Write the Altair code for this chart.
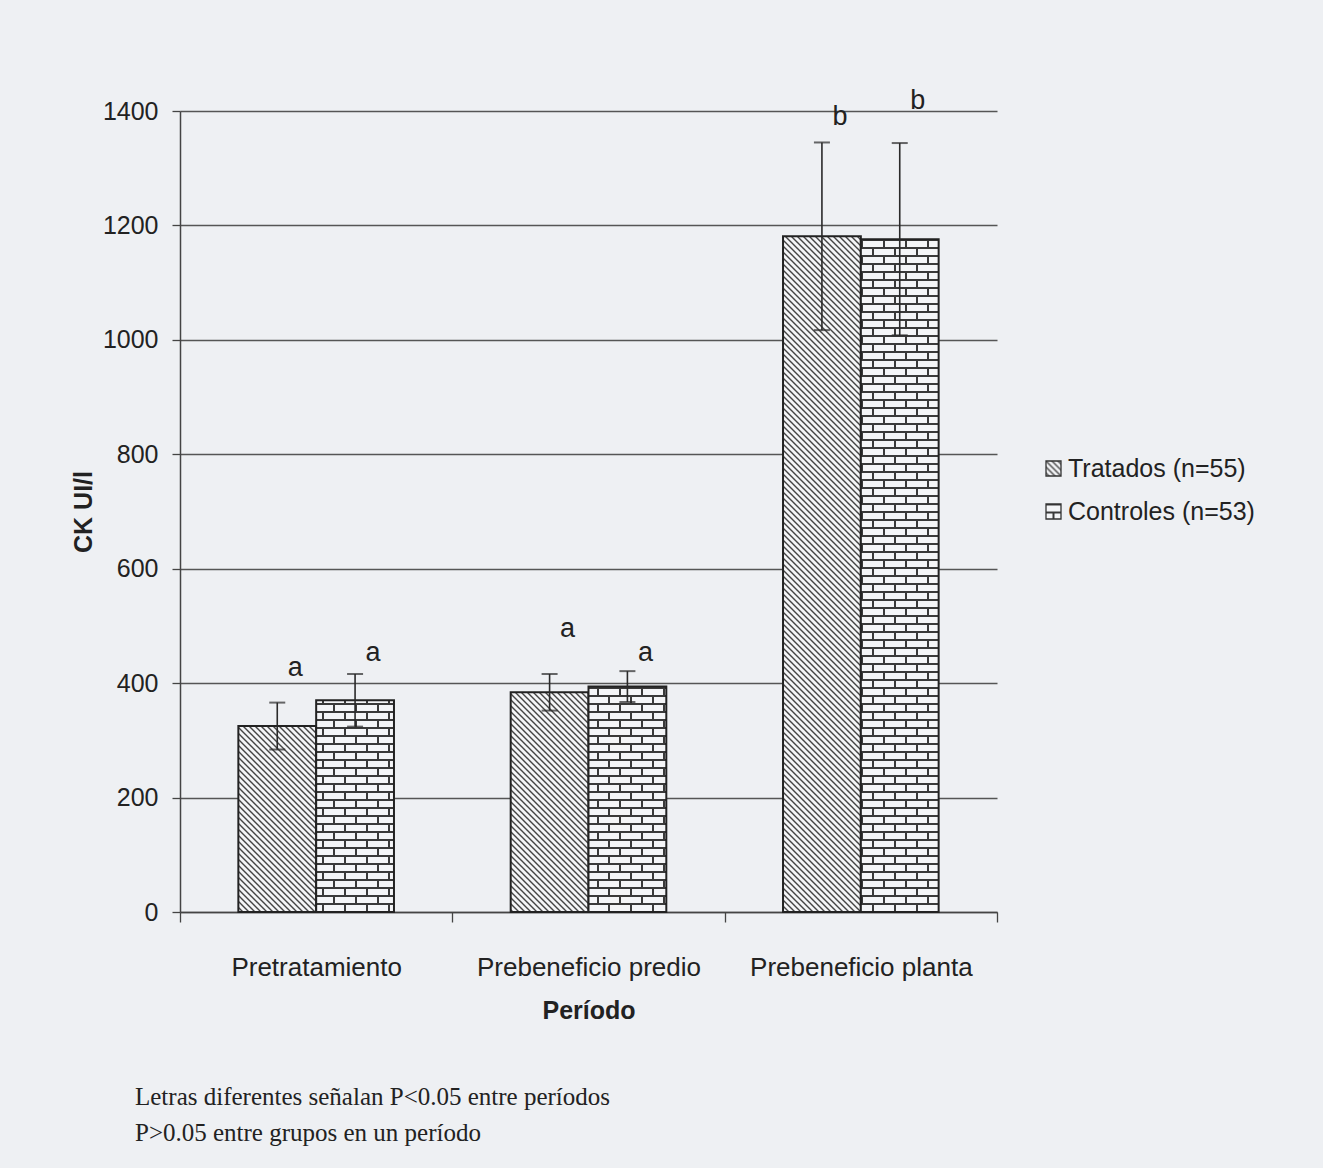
import altair as alt
import pandas as pd
import jinja2

# ---------------- data ----------------
periods = ["Pretratamiento", "Prebeneficio predio", "Prebeneficio planta"]
groups = ["Tratados (n=55)", "Controles (n=53)"]

tratados_mean = [325, 384, 1181]
tratados_err = [41, 32, 164]
controles_mean = [370, 394, 1176]
controles_err = [46, 27, 168]

tratados_letter = ["a", "a", "b"]
controles_letter = ["a", "a", "b"]
tratados_letter_y = [426, 494, 1390]
controles_letter_y = [452, 452, 1417]

y_ticks = [0, 200, 400, 600, 800, 1000, 1200, 1400]

footnote = [
    "Letras diferentes señalan P<0.05 entre períodos",
    "P>0.05 entre grupos en un período",
]

rows = []
for i, p in enumerate(periods):
    rows.append(dict(period=p, group=groups[0], mean=tratados_mean[i],
                     lo=tratados_mean[i] - tratados_err[i], hi=tratados_mean[i] + tratados_err[i],
                     letter=tratados_letter[i], letter_y=tratados_letter_y[i]))
    rows.append(dict(period=p, group=groups[1], mean=controles_mean[i],
                     lo=controles_mean[i] - controles_err[i], hi=controles_mean[i] + controles_err[i],
                     letter=controles_letter[i], letter_y=controles_letter_y[i]))
df = pd.DataFrame(rows)

SANS = "Liberation Sans"
INK = "#222222"

x_enc = alt.X(
    "period:N", sort=periods,
    scale=alt.Scale(paddingInner=0, paddingOuter=0),
    axis=alt.Axis(
        title="Período", labelAngle=0, tickBand="extent", tickSize=10,
        tickColor="#444", tickWidth=1.3, domainColor="#444", domainWidth=1.5,
        labelFont=SANS, labelFontSize=26, labelColor=INK, labelPadding=32,
        labelLimit=0,
        titleFont=SANS, titleFontSize=25, titleFontWeight="bold", titleColor=INK,
        titlePadding=18,
    ),
)
xoff_enc = alt.XOffset("group:N", sort=groups,
                       scale=alt.Scale(paddingInner=0, paddingOuter=0.75))

y_scale = alt.Scale(domain=[0, 1400], nice=False)

base = alt.Chart(df).encode(x=x_enc, xOffset=xoff_enc)

bars = base.mark_bar(stroke="#222", strokeWidth=2).encode(
    y=alt.Y("mean:Q", scale=y_scale,
            axis=alt.Axis(
                title="CK UI/l", values=y_ticks, format="d", grid=True, gridColor="#555",
                gridWidth=1.3, tickSize=8, tickColor="#444", tickWidth=1.3,
                domainColor="#444", domainWidth=1.5,
                labelFont=SANS, labelFontSize=25, labelColor=INK, labelPadding=14,
                titleFont=SANS, titleFontSize=25, titleFontWeight="bold",
                titleColor=INK, titlePadding=6,
            )),
    fill=alt.Fill("group:N",
                  scale=alt.Scale(domain=groups, range=["url(#hatch)", "url(#brick)"]),
                  legend=alt.Legend(
                      title=None, orient="none", legendX=861, legendY=345,
                      symbolType="square", symbolSize=225, symbolStrokeColor="#333",
                      symbolStrokeWidth=1.3, labelFont=SANS, labelFontSize=25,
                      labelColor=INK, labelOffset=2, rowPadding=17, padding=0,
                      labelLimit=0,
                  )),
)

stems = base.mark_rule(color="#2a2a2a", strokeWidth=1.6).encode(
    y=alt.Y("lo:Q", scale=y_scale), y2="hi:Q"
)
cap_lo = base.mark_tick(color="#2a2a2a", size=16, thickness=2).encode(
    y=alt.Y("lo:Q", scale=y_scale)
)
cap_hi = base.mark_tick(color="#2a2a2a", size=16, thickness=2).encode(
    y=alt.Y("hi:Q", scale=y_scale)
)
letters = base.mark_text(font=SANS, fontSize=27, dx=18, baseline="middle",
                         color=INK).encode(
    y=alt.Y("letter_y:Q", scale=y_scale), text="letter:N"
)

chart = (
    alt.layer(bars, stems, cap_lo, cap_hi, letters)
    .properties(
        width=817, height=801,
        autosize=alt.AutoSizeParams(type="none"),
        padding={"left": 172, "top": 103, "right": 318, "bottom": 240},
        background="#eef0f3",
        title=alt.TitleParams(
            text=footnote, orient="bottom", anchor="start", frame="group",
            font="Liberation Serif", fontSize=25, fontWeight="normal",
            color=INK, lineHeight=36, dx=-45, offset=62,
        ),
    )
    .configure_view(stroke=None)
)

TEMPLATE = jinja2.Template("""<!DOCTYPE html>
<html>
<head>
  <meta charset="utf-8">
  <style>
    body { background: #eef0f3; margin: 8px; }
    #{{ output_div }}.vega-embed { width: 100%; display: flex; }
  </style>
  <script type="text/javascript" src="{{ base_url }}/vega@{{ vega_version }}"></script>
  <script type="text/javascript" src="{{ base_url }}/vega-lite@{{ vegalite_version }}"></script>
  <script type="text/javascript" src="{{ base_url }}/vega-embed@{{ vegaembed_version }}"></script>
</head>
<body>
  <svg width="0" height="0" style="position:absolute">
    <defs>
      <pattern id="hatch" patternUnits="userSpaceOnUse" width="6" height="6">
        <rect width="6" height="6" fill="#f4f5f7"/>
        <path d="M-1,-1 L7,7 M-1,5 L1,7 M5,-1 L7,1" stroke="#444" stroke-width="1.4"/>
      </pattern>
      <pattern id="brick" patternUnits="userSpaceOnUse" width="22" height="16">
        <rect width="22" height="16" fill="#3a3a3a"/>
        <rect x="1" y="2" width="20" height="6" fill="#f4f5f7"/>
        <rect x="-10" y="10" width="20" height="6" fill="#f4f5f7"/>
        <rect x="12" y="10" width="20" height="6" fill="#f4f5f7"/>
      </pattern>
    </defs>
  </svg>
  <div id="{{ output_div }}"></div>
  <script>
    (function(vegaEmbed) {
      var spec = {{ spec }};
      var embedOpt = {{ embed_options }};
      vegaEmbed("#{{ output_div }}", spec, embedOpt);
    })(vegaEmbed);
  </script>
</body>
</html>
""")

chart.save("out.html", embed_options={"renderer": "svg", "actions": False},
           template=TEMPLATE)
